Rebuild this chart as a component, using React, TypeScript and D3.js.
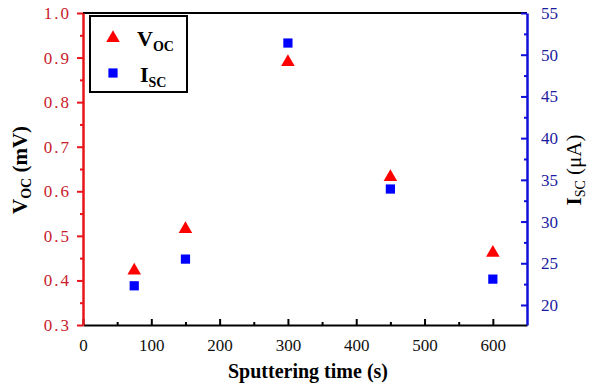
import { useEffect, useRef } from 'react';
import * as d3 from 'd3';

const sputterTimes = [75, 150, 300, 450, 600];
const vocValues = [0.422, 0.515, 0.89, 0.632, 0.462];
const iscValues = [22.3, 25.5, 51.4, 33.9, 23.1];
const xTicks = [0, 100, 200, 300, 400, 500, 600];
const vocTicks = [0.3, 0.4, 0.5, 0.6, 0.7, 0.8, 0.9, 1.0];
const iscTicks = [20, 25, 30, 35, 40, 45, 50, 55];

export default function App() {
    const svgRef = useRef<SVGSVGElement>(null);
    const width = 595;
    const height = 386;

    useEffect(() => {
        if (!svgRef.current) return;
        d3.select(svgRef.current).selectAll("*").remove();

        const svg = d3.select(svgRef.current);
        const margin = { top: 13, right: 68, bottom: 61, left: 83 };
        const chartWidth = width - margin.left - margin.right;
        const chartHeight = height - margin.top - margin.bottom;

        const serif = "Liberation Serif, Times New Roman, serif";
        const red = "#e8141a";
        const blue = "#1010d8";

        const xScale = d3.scaleLinear().domain([0, 650]).range([0, chartWidth]);
        const yLeft = d3.scaleLinear().domain([0.3, 1.0]).range([chartHeight, 0]);
        const yRight = d3.scaleLinear().domain([17.6, 55]).range([chartHeight, 0]);

        const g = svg.append("g")
            .attr("transform", `translate(${margin.left},${margin.top})`);

        // borda de cima
        g.append("line")
            .attr("x1", 0).attr("x2", chartWidth)
            .attr("y1", 0).attr("y2", 0)
            .attr("stroke", "#000").attr("stroke-width", 2);

        // eixo X (ticks para dentro)
        const xMinor = d3.range(50, 650, 100);
        g.append("g")
            .attr("transform", `translate(0,${chartHeight})`)
            .call(d3.axisBottom(xScale).tickValues(xMinor).tickSize(-3).tickFormat(() => ""))
            .call(a => a.select(".domain").remove())
            .selectAll("line").attr("stroke", "#000").attr("stroke-width", 2);
        const xAxis = g.append("g")
            .attr("transform", `translate(0,${chartHeight})`)
            .call(d3.axisBottom(xScale).tickValues(xTicks).tickSize(-6).tickPadding(14).tickSizeOuter(0))
            .attr("font-family", serif)
            .attr("font-size", 17);
        xAxis.select(".domain").attr("stroke", "#000").attr("stroke-width", 2);
        xAxis.selectAll("line").attr("stroke", "#000").attr("stroke-width", 2);
        xAxis.selectAll("text").attr("fill", "#111");

        // eixo Y esquerdo (vermelho, ticks para fora)
        const leftMinor = d3.range(0.35, 1.0, 0.1);
        g.append("g")
            .call(d3.axisLeft(yLeft).tickValues(leftMinor).tickSize(3).tickFormat(() => ""))
            .call(a => a.select(".domain").remove())
            .selectAll("line").attr("stroke", red).attr("stroke-width", 2);
        const leftAxis = g.append("g")
            .call(d3.axisLeft(yLeft).tickValues(vocTicks).tickSize(6).tickPadding(6).tickSizeOuter(0)
                .tickFormat(d => d3.format(".1f")(d as number)))
            .attr("font-family", serif)
            .attr("font-size", 17);
        leftAxis.select(".domain").attr("stroke", red).attr("stroke-width", 2.5);
        leftAxis.selectAll("line").attr("stroke", red).attr("stroke-width", 2);
        leftAxis.selectAll("text")
            .attr("letter-spacing", 2)
            .attr("fill", "#c8202a");

        // eixo Y direito (azul, ticks para dentro)
        const rightMinor = d3.range(22.5, 55, 5);
        g.append("g")
            .attr("transform", `translate(${chartWidth},0)`)
            .call(d3.axisRight(yRight).tickValues(rightMinor).tickSize(-3).tickFormat(() => ""))
            .call(a => a.select(".domain").remove())
            .selectAll("line").attr("stroke", blue).attr("stroke-width", 2);
        const rightAxis = g.append("g")
            .attr("transform", `translate(${chartWidth},0)`)
            .call(d3.axisRight(yRight).tickValues(iscTicks).tickSize(-6).tickPadding(14).tickSizeOuter(0))
            .attr("font-family", serif)
            .attr("font-size", 17);
        rightAxis.select(".domain").attr("stroke", blue).attr("stroke-width", 2.5);
        rightAxis.selectAll("line").attr("stroke", blue).attr("stroke-width", 2);
        rightAxis.selectAll("text").attr("fill", "#1c1ca0");

        // pontos
        const tri = d3.symbol().type(d3.symbolTriangle).size(80);
        const sq = d3.symbol().type(d3.symbolSquare).size(85);

        g.selectAll(".voc")
            .data(sputterTimes)
            .enter()
            .append("path")
            .attr("class", "voc")
            .attr("d", tri)
            .attr("transform", (d, i) => `translate(${xScale(d)},${yLeft(vocValues[i])})`)
            .attr("fill", "#ff0000");

        g.selectAll(".isc")
            .data(sputterTimes)
            .enter()
            .append("path")
            .attr("class", "isc")
            .attr("d", sq)
            .attr("transform", (d, i) => `translate(${xScale(d)},${yRight(iscValues[i])})`)
            .attr("fill", "#0000ff");

        // legenda
        const legend = g.append("g").attr("transform", "translate(7,3)");
        legend.append("rect")
            .attr("width", 97).attr("height", 76)
            .attr("fill", "#fff").attr("stroke", "#000").attr("stroke-width", 2);
        legend.append("path").attr("d", tri).attr("transform", "translate(23,22)").attr("fill", "#ff0000");
        legend.append("path").attr("d", sq).attr("transform", "translate(23,57)").attr("fill", "#0000ff");
        const lv = legend.append("text").attr("x", 47).attr("y", 30)
            .attr("font-family", serif).attr("font-weight", "bold").attr("font-size", 22);
        lv.append("tspan").text("V");
        lv.append("tspan").attr("dy", 5).attr("font-size", 14).text("OC");
        const li = legend.append("text").attr("x", 50).attr("y", 66)
            .attr("font-family", serif).attr("font-weight", "bold").attr("font-size", 22);
        li.append("tspan").text("I");
        li.append("tspan").attr("dy", 5).attr("font-size", 14).text("SC");

        // titulos dos eixos
        svg.append("text")
            .attr("x", margin.left + chartWidth / 2 + 3)
            .attr("y", 378)
            .attr("text-anchor", "middle")
            .attr("font-family", serif)
            .attr("font-weight", "bold")
            .attr("font-size", 20)
            .text("Sputtering time (s)");

        const yl = svg.append("text")
            .attr("transform", "translate(27,170) rotate(-90)")
            .attr("text-anchor", "middle")
            .attr("font-family", serif)
            .attr("font-weight", "bold")
            .attr("font-size", 21);
        yl.append("tspan").text("V");
        yl.append("tspan").attr("dy", 4).attr("font-size", 14).text("OC");
        yl.append("tspan").attr("dy", -4).text(" (mV)");

        const yr = svg.append("text")
            .attr("transform", "translate(581,170) rotate(-90)")
            .attr("text-anchor", "middle")
            .attr("font-family", serif)
            .attr("font-size", 21);
        yr.append("tspan").attr("font-weight", "bold").text("I");
        yr.append("tspan").attr("dy", 4).attr("font-size", 14).text("SC");
        yr.append("tspan").attr("dy", -4).text(" (μA)");
    }, []);

    return (
        <div style={{ position: 'absolute', left: 0, top: 0 }}>
            <svg ref={svgRef} width={width} height={height} style={{ display: 'block', background: '#fff' }} />
        </div>
    );
}
